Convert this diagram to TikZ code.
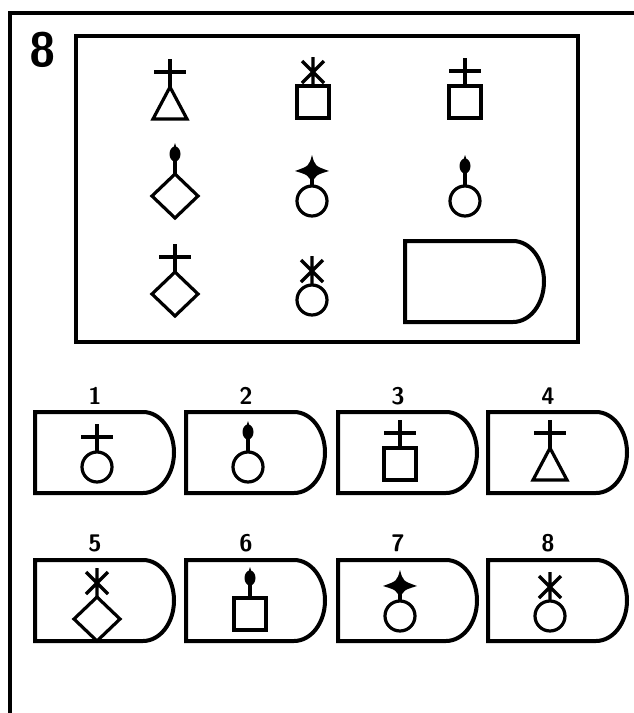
\documentclass[tikz,border=0pt]{standalone}
\begin{document}
\begin{tikzpicture}[x=1pt, y=-1pt, line join=miter,
		frame/.style={line width=4pt},
		sym/.style={line width=3.2pt},
		numlabel/.style={font=\sffamily\bfseries\fontsize{24}{24}\selectfont, inner sep=0pt},
		% lower shapes, each carries its head symbol (#1) on top
		pics/circ/.style={code={\draw[sym] (0,0) circle (15); \pic at (0,-15) {#1};}},
		pics/sq/.style={code={\draw[sym] (-16,-16) rectangle (16,16); \pic at (0,-16) {#1};}},
		pics/tri/.style={code={\draw[sym] (0,-16) -- (17,16) -- (-17,16) -- cycle; \pic at (0,-16) {#1};}},
		pics/dia/.style={code={\draw[sym] (0,-22) -- (23,0) -- (0,22) -- (-23,0) -- cycle; \pic at (0,-22) {#1};}},
		% head symbols, drawn upwards from (0,0)
		pics/cross/.style={code={\draw[sym] (0,0) -- (0,-28) (-16,-15) -- (16,-15);}},
		pics/knob/.style={code={\draw[sym] (0,0) -- (0,-14);
				\fill (0,-20) ellipse (5.5 and 7.5);
				\fill (-2,-25) -- (0,-31) -- (2,-25) -- cycle;}},
		pics/star/.style={code={\draw[sym] (0,0) -- (0,-14);
				\fill (0,-31) .. controls (3,-20) .. (17,-15) .. controls (4,-11) .. (0,-3)
				.. controls (-4,-11) .. (-17,-15) .. controls (-3,-20) .. cycle;}},
		pics/aster/.style={code={\draw[sym] (0,0) -- (0,-29) (-11,-3) -- (11,-25) (11,-3) -- (-11,-25);}},
		% answer tab
		pics/tab/.style={code={\draw[frame] (108,0) -- (0,0) -- (0,81) -- (108,81)
				.. controls (125,81) and (139,63) .. (139,40.5)
				.. controls (139,18) and (125,0) .. cycle;}}]
	\useasboundingbox (0,0) rectangle (634,713);
	
	% 1. frame and number
	\draw[line width=3.2pt] (10,713) -- (10,13) -- (634,13);
	\node[font=\sffamily\bfseries\fontsize{48}{48}\selectfont, inner sep=0pt] (qnum) at (43,50) {8};
	
	% 2. matrix
	\draw[frame] (76,36) rectangle (578,342);
	\pic at (170,103) {tri=cross};
	\pic at (313,102) {sq=aster};
	\pic at (465,102) {sq=cross};
	\pic at (175,196) {dia=knob};
	\pic at (312,201) {circ=star};
	\pic at (465,201) {circ=knob};
	\pic at (175,294) {dia=cross};
	\pic at (312,300) {circ=aster};
	\pic at (405,241) {tab};
	
	% 3. answers
	\foreach \n/\lx in {1/35, 2/186, 3/338, 4/488}{
		\pic at (\lx,412) {tab};
		\node[numlabel] (lab\n) at (\lx+60,396) {\n};
	}
	\foreach \n/\lx in {5/35, 6/186, 7/338, 8/488}{
		\pic at (\lx,560) {tab};
		\node[numlabel] (lab\n) at (\lx+60,543) {\n};
	}
	\pic at (97,467) {circ=cross};
	\pic at (248,467) {circ=knob};
	\pic at (400,464) {sq=cross};
	\pic at (550,464) {tri=cross};
	\pic at (97,619) {dia=aster};
	\pic at (250,614) {sq=knob};
	\pic at (400,616) {circ=star};
	\pic at (550,616) {circ=aster};
\end{tikzpicture}
\end{document}
